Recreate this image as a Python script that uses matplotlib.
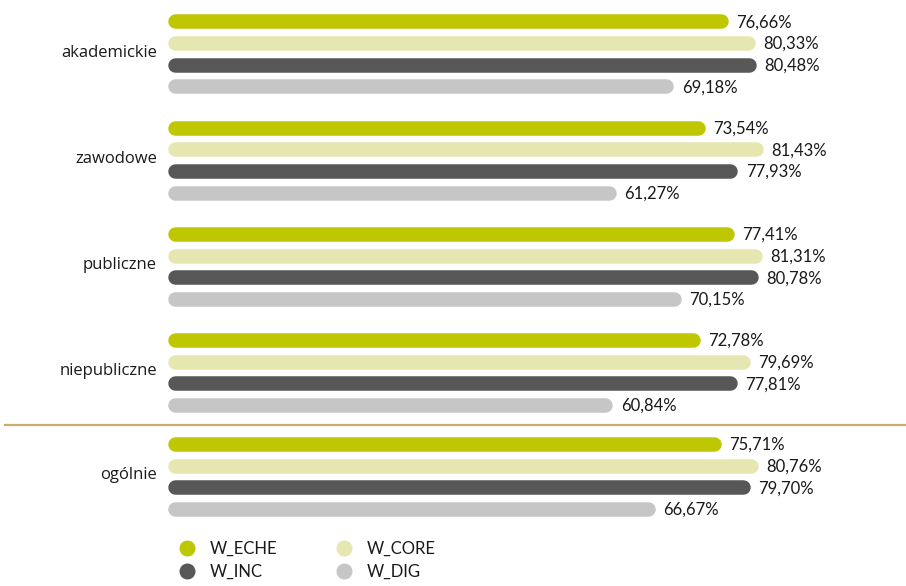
import matplotlib
matplotlib.use("Agg")
import matplotlib.pyplot as plt
from matplotlib.lines import Line2D

categories = ["akademickie", "zawodowe", "publiczne", "niepubliczne", "ogólnie"]
series = ["W_ECHE", "W_CORE", "W_INC", "W_DIG"]
W_ECHE = [76.66, 73.54, 77.41, 72.78, 75.71]
W_CORE = [80.33, 81.43, 81.31, 79.69, 80.76]
W_INC = [80.48, 77.93, 80.78, 77.81, 79.70]
W_DIG = [69.18, 61.27, 70.15, 60.84, 66.67]
values = [W_ECHE, W_CORE, W_INC, W_DIG]
colors = ["#BEC702", "#E5E6B0", "#575757", "#C6C6C6"]

W, H, DPI = 906, 586, 100
fig = plt.figure(figsize=(W / DPI, H / DPI), dpi=DPI)
left_px, right_px = 168, 899
ax = fig.add_axes([left_px / W, 0, (right_px - left_px) / W, 1])
ax.set_xlim(0, 100)
ax.set_ylim(H, 0)
ax.axis("off")

px_per_unit = (right_px - left_px) / 100.0
bar_h = 14.5
r = bar_h / 2 / px_per_unit
lw = bar_h * 72 / DPI

group_tops = [21.3, 127.5, 234.0, 340.0, 444.0]
row_step = 21.7
font_val = "Lato"
font_lab = "Open Sans"

for g, cat in enumerate(categories):
    y0 = group_tops[g]
    for s in range(len(series)):
        v = values[s][g]
        y = y0 + s * row_step
        ax.plot([r, v - r], [y, y], color=colors[s], lw=lw,
                solid_capstyle="round", zorder=2)
        ax.text(v + 8 / px_per_unit, y + 1, f"{v:.2f}%".replace(".", ","),
                ha="left", va="center", fontsize=12, color="#1a1a1a",
                family=font_val)
    ax.text(-11 / px_per_unit, y0 + 1.45 * row_step, cat, ha="right",
            va="center", fontsize=12, color="#1a1a1a", family=font_lab)

# separator line
fig.add_artist(Line2D([5 / W, 1.0], [1 - 424.5 / H, 1 - 424.5 / H],
                      color="#C9AD6A", lw=1.6))

# legend
leg_items = [(0, 187, 548), (1, 344, 548), (2, 187, 571), (3, 344, 571)]
for s, xp, yp in leg_items:
    fig.add_artist(Line2D([xp / W], [1 - yp / H], marker="o", markersize=10.5,
                          color=colors[s], lw=0))
    fig.text((xp + 23) / W, 1 - (yp + 1) / H, series[s], ha="left",
             va="center", fontsize=12, color="#1a1a1a", family=font_val)

fig.savefig("out.png", dpi=DPI)
